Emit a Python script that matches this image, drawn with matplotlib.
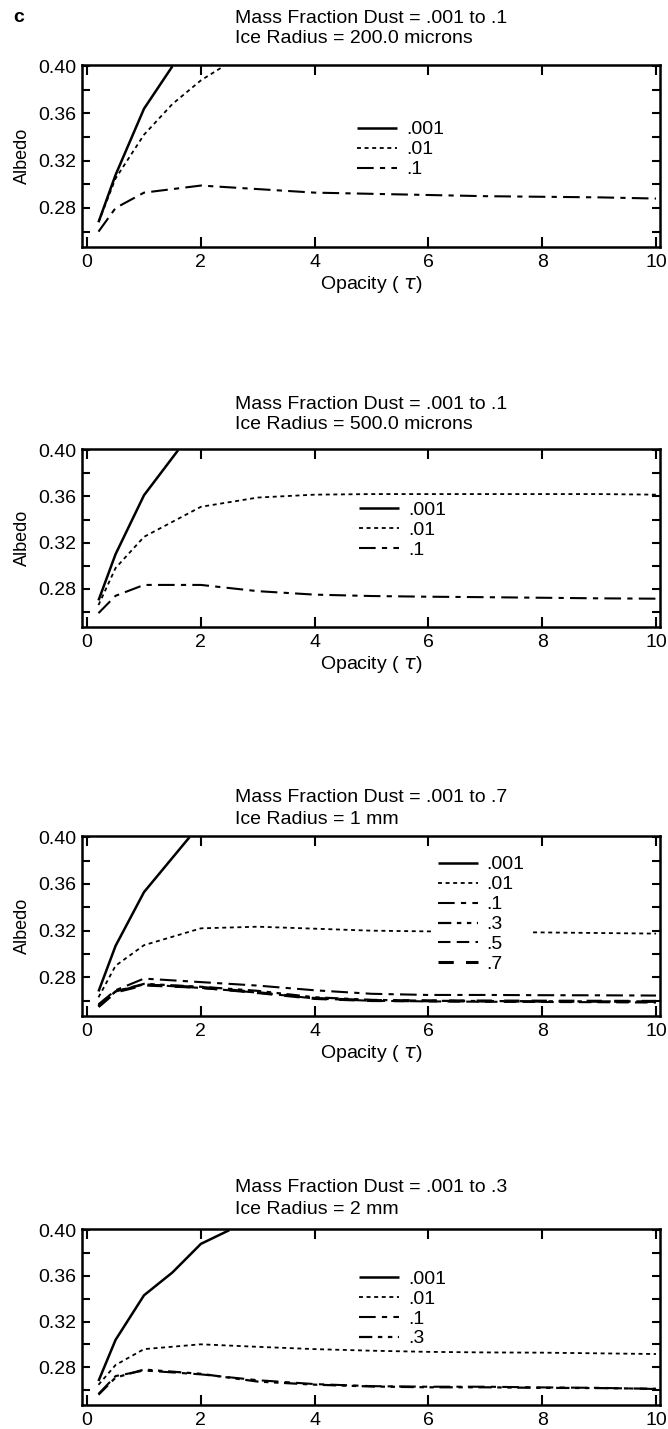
import matplotlib
matplotlib.use('Agg')
import matplotlib.pyplot as plt

plt.rcParams['font.family'] = ['Liberation Sans', 'DejaVu Sans']

# opacity grid used by most series
tau_long = [0.2, 0.5, 1, 2, 3, 4, 5, 6, 7, 8, 9, 10]

# panel 1: ice radius 200 microns
p1_001_x = [0.2, 0.5, 1.0, 1.5]
p1_001_y = [0.268, 0.308, 0.364, 0.400]
p1_01_x = [0.2, 0.5, 1.0, 1.5, 2.0, 2.4]
p1_01_y = [0.268, 0.305, 0.342, 0.368, 0.388, 0.400]
p1_1_y = [0.260, 0.280, 0.293, 0.299, 0.296, 0.293, 0.292, 0.291, 0.290, 0.2895, 0.289, 0.288]

# panel 2: ice radius 500 microns
p2_001_x = [0.2, 0.5, 1.0, 1.6]
p2_001_y = [0.270, 0.310, 0.361, 0.400]
p2_01_y = [0.266, 0.298, 0.325, 0.351, 0.359, 0.3615, 0.362, 0.362, 0.362, 0.362, 0.362, 0.3615]
p2_1_y = [0.259, 0.274, 0.2834, 0.2834, 0.278, 0.275, 0.2738, 0.2732, 0.2728, 0.2723, 0.2718, 0.2715]

# panel 3: ice radius 1 mm
p3_001_x = [0.2, 0.5, 1.0, 1.8]
p3_001_y = [0.268, 0.307, 0.353, 0.400]
p3_01_y = [0.263, 0.290, 0.3076, 0.322, 0.3234, 0.3217, 0.320, 0.3194, 0.319, 0.3185, 0.318, 0.3175]
p3_1_y = [0.257, 0.269, 0.279, 0.276, 0.273, 0.269, 0.266, 0.265, 0.265, 0.2648, 0.2647, 0.2645]
p3_3_y = [0.256, 0.268, 0.2745, 0.272, 0.2685, 0.263, 0.2608, 0.260, 0.2598, 0.2596, 0.2595, 0.2595]
p3_5_y = [0.255, 0.268, 0.274, 0.271, 0.267, 0.262, 0.260, 0.2595, 0.2592, 0.259, 0.2588, 0.2585]
p3_7_y = [0.255, 0.2675, 0.2735, 0.2715, 0.267, 0.262, 0.2602, 0.260, 0.2598, 0.2597, 0.2596, 0.2595]

# panel 4: ice radius 2 mm
p4_001_x = [0.2, 0.5, 1.0, 1.5, 2.0, 2.5]
p4_001_y = [0.268, 0.304, 0.343, 0.363, 0.388, 0.400]
p4_01_y = [0.2647, 0.282, 0.2959, 0.3001, 0.2979, 0.2959, 0.2945, 0.2935, 0.293, 0.2928, 0.2922, 0.2916]
p4_1_y = [0.2567, 0.2723, 0.2772, 0.2738, 0.2687, 0.2653, 0.2635, 0.263, 0.263, 0.2624, 0.262, 0.261]
p4_3_y = [0.256, 0.271, 0.278, 0.2743, 0.2675, 0.2648, 0.2632, 0.2625, 0.2625, 0.2620, 0.2618, 0.2612]

titles = ["Mass Fraction Dust = .001 to .1\nIce Radius = 200.0 microns",
          "Mass Fraction Dust = .001 to .1\nIce Radius = 500.0 microns",
          "Mass Fraction Dust = .001 to .7\nIce Radius = 1 mm",
          "Mass Fraction Dust = .001 to .3\nIce Radius = 2 mm"]

# line styles per mass fraction
styles = {
    '.001': dict(ls='-', lw=1.8),
    '.01': dict(ls=(0, (2.2, 2.0)), lw=1.3),
    '.1': dict(ls=(0, (8, 3, 2.5, 3)), lw=1.5),
    '.3': dict(ls=(0, (6, 2.5, 2, 2.5, 2, 2.5)), lw=1.6),
    '.5': dict(ls=(0, (6, 3)), lw=1.5),
    '.7': dict(ls=(0, (5, 4)), lw=2.2),
}

panels = [
    dict(series=[('.001', p1_001_x, p1_001_y), ('.01', p1_01_x, p1_01_y), ('.1', tau_long, p1_1_y)],
         top=65, bottom=247, leg=(0.466, 0.725), box=False, ty=1.10, tls=1.22, ylab=True, xlab=True),
    dict(series=[('.001', p2_001_x, p2_001_y), ('.01', tau_long, p2_01_y), ('.1', tau_long, p2_1_y)],
         top=449, bottom=627, leg=(0.470, 0.738), box=False, ty=1.09, tls=1.2, ylab=True, xlab=True),
    dict(series=[('.001', p3_001_x, p3_001_y), ('.01', tau_long, p3_01_y), ('.1', tau_long, p3_1_y),
                 ('.3', tau_long, p3_3_y), ('.5', tau_long, p3_5_y), ('.7', tau_long, p3_7_y)],
         top=836, bottom=1016, leg=(0.606, 0.922), box=True, ty=1.045, tls=1.4, ylab=True, xlab=True),
    dict(series=[('.001', p4_001_x, p4_001_y), ('.01', tau_long, p4_01_y), ('.1', tau_long, p4_1_y),
                 ('.3', tau_long, p4_3_y)],
         top=1229, bottom=1405, leg=(0.470, 0.80), box=False, ty=1.063, tls=1.4, ylab=False, xlab=False),
]

W, H = 668, 1429
fig = plt.figure(figsize=(W / 100, H / 100), dpi=100)

for p, title in zip(panels, titles):
    ax = fig.add_axes([82 / W, 1 - p['bottom'] / H, 578 / W, (p['bottom'] - p['top']) / H])
    for name, xs, ys in p['series']:
        ax.plot(xs, ys, color='black', label=name, solid_capstyle='butt', **styles[name])
    ax.set_xlim(-0.09, 10.07)
    ax.set_ylim(0.247, 0.401)
    ax.set_xticks([0, 2, 4, 6, 8, 10])
    ax.set_yticks([0.28, 0.32, 0.36, 0.40])
    ax.set_yticklabels(['0.28', '0.32', '0.36', '0.40'])
    ax.set_yticks([0.26, 0.30, 0.34, 0.38], minor=True)
    ax.tick_params(axis='x', which='major', direction='in', top=True, length=7, width=1.5,
                   labelsize=14, pad=5)
    ax.tick_params(axis='y', which='both', direction='in', right=True, length=5.5, width=1.5,
                   labelsize=14, pad=4)
    for s in ax.spines.values():
        s.set_linewidth(1.8)
    ax.text(0.5, p['ty'], title, transform=ax.transAxes, ha='center', va='bottom',
            multialignment='left', fontsize=14, linespacing=p['tls'])
    if p['ylab']:
        ax.set_ylabel('Albedo', fontsize=13, labelpad=5)
    if p['xlab']:
        ax.set_xlabel('Opacity ( $\\tau$)', fontsize=14, labelpad=2)
    ax.legend(loc='upper left', bbox_to_anchor=p['leg'], fontsize=14,
              frameon=p['box'], framealpha=1, facecolor='white', edgecolor='none',
              borderpad=0.3, borderaxespad=0, handlelength=2.05, handletextpad=0.45,
              labelspacing=0.12)

fig.text(13 / W, 1 - 17 / H, 'c', fontsize=14, fontweight='bold', ha='left', va='center')

fig.savefig('out.png', dpi=100)
